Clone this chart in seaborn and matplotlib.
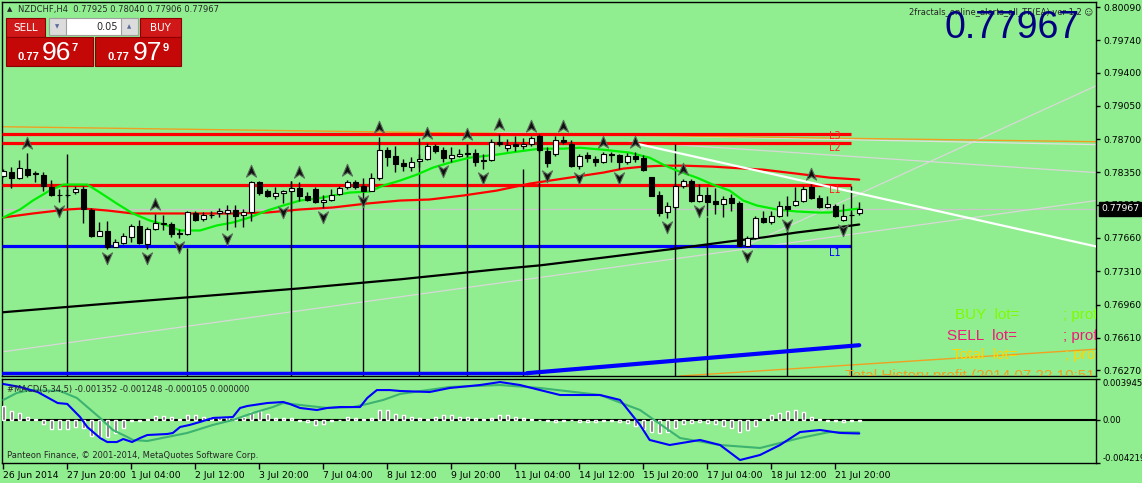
import numpy as np
import pandas as pd
import seaborn as sns
import matplotlib.pyplot as plt
from matplotlib.path import Path
from matplotlib.patches import Rectangle
import matplotlib.transforms as mtransforms

# NZDCHF H4 candles, 26 Jun 2014 12:00 .. 22 Jul 2014 08:00
opens = [0.78317, 0.78359, 0.78292, 0.78387, 0.78341, 0.78327, 0.78194, 0.78117, 0.78114, 0.78145,
         0.78177, 0.77956, 0.77683, 0.77729, 0.77568, 0.77609, 0.77669, 0.77788, 0.77599, 0.77753,
         0.77823, 0.77806, 0.77708, 0.77704, 0.77928, 0.77858, 0.77900, 0.77928, 0.77921, 0.77956,
         0.77897, 0.77932, 0.78250, 0.78152, 0.78103, 0.78138, 0.78156, 0.78187, 0.78103, 0.78177,
         0.78040, 0.78061, 0.78124, 0.78194, 0.78254, 0.78212, 0.78159, 0.78292, 0.78586, 0.78527,
         0.78446, 0.78411, 0.78467, 0.78492, 0.78631, 0.78589, 0.78498, 0.78526, 0.78554, 0.78554,
         0.78467, 0.78481, 0.78673, 0.78607, 0.78645, 0.78631, 0.78649, 0.78736, 0.78572, 0.78544,
         0.78694, 0.78649, 0.78414, 0.78533, 0.78491, 0.78463, 0.78544, 0.78533, 0.78456, 0.78519,
         0.78498, 0.78299, 0.78113, 0.77931, 0.77984, 0.78204, 0.78264, 0.78054, 0.78113, 0.78050,
         0.78019, 0.78085, 0.78029, 0.77581, 0.77658, 0.77871, 0.77826, 0.77896, 0.78001, 0.78008,
         0.78050, 0.78194, 0.78085, 0.77987, 0.77994, 0.77854, 0.77906, 0.77925]
highs = [0.78387, 0.78404, 0.78481, 0.78551, 0.78369, 0.78352, 0.78271, 0.78177, 0.78177, 0.78212,
         0.78212, 0.77977, 0.77827, 0.77834, 0.77652, 0.77715, 0.77809, 0.77851, 0.77774, 0.77914,
         0.77897, 0.77827, 0.77757, 0.77949, 0.77942, 0.77932, 0.77949, 0.77977, 0.78002, 0.78002,
         0.77967, 0.78264, 0.78264, 0.78177, 0.78194, 0.78166, 0.78264, 0.78254, 0.78142, 0.78194,
         0.78117, 0.78177, 0.78212, 0.78271, 0.78271, 0.78229, 0.78341, 0.78719, 0.78621, 0.78631,
         0.78492, 0.78509, 0.78544, 0.78656, 0.78649, 0.78614, 0.78614, 0.78596, 0.78648, 0.78596,
         0.78544, 0.78701, 0.78754, 0.78701, 0.78736, 0.78708, 0.78736, 0.78754, 0.78614, 0.78729,
         0.78729, 0.78694, 0.78544, 0.78561, 0.78519, 0.78561, 0.78561, 0.78544, 0.78554, 0.78561,
         0.78533, 0.78306, 0.78159, 0.78036, 0.78229, 0.78281, 0.78281, 0.78229, 0.78194, 0.78183,
         0.78106, 0.78124, 0.78054, 0.77679, 0.77896, 0.77949, 0.77949, 0.78054, 0.78106, 0.78194,
         0.78211, 0.78229, 0.78113, 0.78106, 0.78019, 0.78019, 0.77931, 0.78040]
lows = [0.78299, 0.78184, 0.78282, 0.78306, 0.78247, 0.78159, 0.78107, 0.78037, 0.78089, 0.78124,
        0.77816, 0.77669, 0.77676, 0.77547, 0.77564, 0.77599, 0.77617, 0.77599, 0.77547, 0.77739,
        0.77739, 0.77669, 0.77662, 0.77687, 0.77837, 0.77844, 0.77872, 0.77879, 0.77746, 0.77774,
        0.77774, 0.77837, 0.78117, 0.78096, 0.78068, 0.78026, 0.77932, 0.78054, 0.78054, 0.78026,
        0.77977, 0.78047, 0.78117, 0.78177, 0.78177, 0.78142, 0.78152, 0.78271, 0.78414, 0.78352,
        0.78369, 0.78369, 0.78404, 0.78481, 0.78551, 0.78456, 0.78456, 0.78509, 0.78509, 0.78421,
        0.78386, 0.78474, 0.78631, 0.78579, 0.78579, 0.78596, 0.78631, 0.78561, 0.78404, 0.78526,
        0.78649, 0.78404, 0.78386, 0.78456, 0.78421, 0.78449, 0.78463, 0.78386, 0.78439, 0.78456,
        0.78369, 0.78099, 0.77889, 0.77868, 0.77973, 0.78183, 0.78043, 0.78036, 0.77896, 0.77913,
        0.77879, 0.77949, 0.77574, 0.77564, 0.77651, 0.77819, 0.77808, 0.77879, 0.77896, 0.78001,
        0.78036, 0.78071, 0.77973, 0.77973, 0.77879, 0.77844, 0.77889, 0.77906]
closes = [0.78362, 0.78292, 0.78397, 0.78324, 0.78331, 0.78212, 0.78114, 0.78110, 0.78112, 0.78177,
          0.77967, 0.77676, 0.77729, 0.77564, 0.77620, 0.77676, 0.77788, 0.77606, 0.77757, 0.77816,
          0.77802, 0.77704, 0.77701, 0.77935, 0.77851, 0.77904, 0.77907, 0.77939, 0.77956, 0.77893,
          0.77932, 0.78254, 0.78131, 0.78103, 0.78135, 0.78159, 0.78184, 0.78103, 0.78061, 0.78037,
          0.78065, 0.78117, 0.78187, 0.78247, 0.78194, 0.78152, 0.78292, 0.78586, 0.78516, 0.78439,
          0.78414, 0.78460, 0.78492, 0.78631, 0.78579, 0.78498, 0.78533, 0.78544, 0.78547, 0.78456,
          0.78484, 0.78666, 0.78649, 0.78638, 0.78624, 0.78652, 0.78712, 0.78589, 0.78449, 0.78691,
          0.78666, 0.78414, 0.78526, 0.78498, 0.78463, 0.78544, 0.78533, 0.78456, 0.78526, 0.78491,
          0.78379, 0.78106, 0.77924, 0.77994, 0.78211, 0.78257, 0.78054, 0.78113, 0.78043, 0.78015,
          0.78071, 0.78029, 0.77581, 0.77658, 0.77868, 0.77826, 0.77896, 0.78001, 0.77966, 0.78054,
          0.78176, 0.78078, 0.77984, 0.78019, 0.77889, 0.77896, 0.77899, 0.77967]

date_labels = ["26 Jun 2014", "27 Jun 20:00", "1 Jul 04:00", "2 Jul 12:00", "3 Jul 20:00",
               "7 Jul 04:00", "8 Jul 12:00", "9 Jul 20:00", "11 Jul 04:00", "14 Jul 12:00",
               "15 Jul 20:00", "17 Jul 04:00", "18 Jul 12:00", "21 Jul 20:00"]
price_ticks = [0.80090, 0.79740, 0.79400, 0.79050, 0.78700, 0.78350, 0.78010,
               0.77660, 0.77310, 0.76960, 0.76610, 0.76270]

# fractal bars (index into the candles)
fractal_up = [3, 19, 31, 37, 43, 47, 53, 58, 62, 66, 70, 75, 79, 85, 101]
fractal_down = [7, 13, 18, 22, 28, 35, 40, 45, 55, 60, 68, 72, 77, 83, 87, 93, 98, 105]
# vertical marker lines: bar and price where they start
vline_bar = [8, 23, 36, 45, 52, 58, 65, 67, 84, 88, 98, 106]
vline_top = [0.78547, 0.77550, 0.78264, 0.78295, 0.78715, 0.78652, 0.78390, 0.78736,
             0.78652, 0.77876, 0.77823, 0.78211]

# moving averages (bar, price)
green_bar = [0, 2.1, 3.7, 5.8, 7.5, 10.5, 12.1, 14.2, 16.2, 18.3, 20.5, 22.1, 24.6, 26.7, 28.7,
             30.8, 33, 35, 37.1, 39.2, 41.2, 43.3, 45.8, 47.5, 49.6, 51.7, 53.7, 55.8, 58.3, 61.7,
             64.2, 67.1, 70, 72.1, 75, 78.3, 80.8, 82.5, 84.2, 86.7, 88.7, 90.8, 92.5, 94.2, 96.7,
             99.2, 101.7, 103.3, 104.9, 107]
green_ma = [0.77876, 0.77960, 0.78054, 0.78159, 0.78222, 0.78222, 0.78138, 0.78022, 0.77918,
            0.77844, 0.77792, 0.77739, 0.77739, 0.77792, 0.77823, 0.77876, 0.77949, 0.78002,
            0.78054, 0.78075, 0.78107, 0.78138, 0.78149, 0.78212, 0.78264, 0.78327, 0.78400,
            0.78453, 0.78505, 0.78537, 0.78568, 0.78600, 0.78600, 0.78610, 0.78589, 0.78558,
            0.78505, 0.78432, 0.78369, 0.78295, 0.78222, 0.78159, 0.78054, 0.78002, 0.77960,
            0.77939, 0.77928, 0.77928, 0.77949, 0.77970]
red_bar = [0, 3.7, 8, 10, 13, 16.2, 20.5, 24.6, 28.7, 33, 37.1, 41.2, 45.5, 49.6, 53.3, 57.5,
           61.7, 65.8, 70, 75, 77.5, 80, 82.5, 85, 88.7, 90.8, 95, 99.2, 103.3, 107]
red_ma = [0.77876, 0.77918, 0.77960, 0.77970, 0.77949, 0.77918, 0.77918, 0.77918, 0.77918,
          0.77928, 0.77960, 0.77981, 0.78023, 0.78054, 0.78065, 0.78107, 0.78159, 0.78232,
          0.78285, 0.78348, 0.78390, 0.78411, 0.78421, 0.78421, 0.78411, 0.78400, 0.78379,
          0.78337, 0.78295, 0.78274]
black_bar = [0, 12.1, 24.6, 37.1, 49.6, 61.7, 67.1, 74.2, 84.2, 90.8, 95, 99.2, 103.3, 107]
black_ma = [0.76879, 0.76963, 0.77046, 0.77130, 0.77225, 0.77330, 0.77372, 0.77445, 0.77550,
            0.77624, 0.77666, 0.77718, 0.77760, 0.77802]

# horizontal levels
red_levels = [0.78754, 0.78663, 0.78222]
blue_level = 0.77571

# MACD(5,34,5)
macd_bar = [0, 2.1, 4.3, 6.8, 8, 9.6, 10.5, 12.1, 13, 14.2, 15, 16.1, 17.1, 18, 20.5, 21.2, 22.1,
            23.3, 24.6, 26.2, 28.7, 29.6, 30.5, 33, 35, 35.8, 37.1, 39.2, 40.5, 42.1, 44.6, 45.5,
            46.7, 48.3, 49.6, 53.3, 55.8, 59.6, 62.1, 64.6, 67.1, 69.6, 74.6, 77.1, 79.6, 80.8,
            83.3, 87.1, 89.6, 92.1, 94.6, 97.1, 99.6, 102.1, 104.6, 107]
macd_main = [0.00346, 0.00317, 0.00268, 0.00161, 0.00152, 0.00025, -0.00072, -0.00179, -0.00218,
             -0.00218, -0.00189, -0.00218, -0.00179, -0.00150, -0.00140, -0.00130, -0.00072,
             -0.00052, -0.00023, 0.00016, 0.00025, 0.00113, 0.00132, 0.00161, 0.00171, 0.00152,
             0.00113, 0.00093, 0.00113, 0.00122, 0.00122, 0.00210, 0.00287, 0.00287, 0.00278,
             0.00268, 0.00307, 0.00336, 0.00365, 0.00336, 0.00287, 0.00239, 0.00239, 0.00191,
             -0.00052, -0.00198, -0.00247, -0.00198, -0.00247, -0.00393, -0.00344, -0.00247,
             -0.00121, -0.00101, -0.00130, -0.001352]
signal_bar = [0, 1.7, 3.3, 7.1, 9.2, 12.1, 13.7, 15.5, 16.2, 18, 20.5, 23, 26.2, 28.7, 31.2, 33.7,
              35, 37.1, 40.5, 43.7, 45.5, 47.5, 49.6, 55.8, 62.1, 67.1, 74.6, 79.6, 84.6, 89.6,
              94.6, 99.6, 103.3, 107]
macd_signal = [0.00191, 0.00259, 0.00287, 0.00278, 0.00210, 0.00016, -0.00101, -0.00169, -0.00198,
               -0.00208, -0.00169, -0.00130, -0.00052, -0.00004, 0.00064, 0.00122, 0.00161,
               0.00142, 0.00113, 0.00122, 0.00152, 0.00191, 0.00249, 0.00317, 0.00336, 0.00307,
               0.00239, 0.00093, -0.00179, -0.00247, -0.00276, -0.00179, -0.00121, -0.001248]
macd_hist = [0.00132, 0.00084, 0.00064, 0.00025, 0.00003, -0.00043, -0.00091, -0.00091, -0.00091,
             -0.00072, -0.00082, -0.00159, -0.00169, -0.00174, -0.00130, -0.00082, -0.00014,
             -0.00014, 0.00002, 0.00035, 0.00035, 0.00025, 0.00006, 0.00045, 0.00045, 0.00030,
             0.00030, 0.00030, 0.00025, 0.00016, 0.00025, 0.00074, 0.00079, 0.00054, 0.00020,
             0.00020, 0.00016, -0.00018, -0.00023, -0.00052, -0.00043, -0.00018, -0.00004,
             0.00030, 0.00020, 0.00006, 0.00020, 0.00093, 0.00093, 0.00059,
             0.0004, 0.0003, 0.0002, 0.0001, 0.0003, 0.0004, 0.0004, 0.0003,
             0.0003, 0.0002, 0.0001, 0.0002, 0.0004, 0.0004, 0.0003, 0.0002, 0.0001,
             0.0, -0.0001, -0.0002, -0.0001, 0.0, -0.0002, -0.0002, -0.0002, -0.0001, -0.0001,
             -0.0002, -0.0003,
             -0.0006, -0.0009, -0.0012, -0.0013, -0.0012, -0.0008, -0.0004, -0.0003, -0.0002,
             -0.0003, -0.0004, -0.0006, -0.0008, -0.0012,
             -0.0010, -0.0006, 0.0001, 0.0004, 0.0006, 0.0008, 0.0009, 0.0007, 0.0003, 0.0001,
             -0.0001, -0.0001, -0.0002, -0.0001, -0.000105]

# ---------------------------------------------------------------
sns.set_style("white")
plt.rcParams['font.family'] = ['DejaVu Sans']
plt.rcParams['axes.linewidth'] = 1.0

BG = '#90EE90'
W, H = 1142, 483
fig = plt.figure(figsize=(W / 100, H / 100), dpi=100, facecolor=BG)


def fbox(x0, y0, x1, y1):
    return [x0 / W, 1 - y1 / H, (x1 - x0) / W, (y1 - y0) / H]


def fxy(x, y):
    return x / W, 1 - y / H


ax = fig.add_axes(fbox(2, 2, 1096, 376), facecolor=BG)
axm = fig.add_axes(fbox(2, 379, 1096, 463), facecolor=BG)

n = len(opens)
bars = np.arange(n)
o = np.array(opens)
c = np.array(closes)
hi = np.array(highs)
lo = np.array(lows)
xlim = (-0.16, 136.6)
ylim = (0.76208, 0.80143)

# bid line
ax.axhline(closes[-1], color='#C8C8C8', lw=0.9, zorder=1)

# thin pale trend lines
ax.plot([-0.4, 136.6], [0.76459, 0.78054], color='#D8D8D8', lw=0.9, zorder=2)
ax.plot([92.9, 136.6], [0.77582, 0.79261], color='#D8D8D8', lw=0.9, zorder=2)
ax.plot([78.3, 136.6], [0.78673, 0.78348], color='#D8D8D8', lw=0.9, zorder=2)
ax.plot([61.7, 136.6], [0.78768, 0.78642], color='#E0E0E0', lw=0.9, zorder=2)
# orange line near top and bottom
ax.plot([-0.4, 136.6], [0.78831, 0.78673], color='#F0A020', lw=1.0, zorder=2)
ax.plot([84.6, 136.6], [0.76208, 0.76490], color='#F0A020', lw=1.0, zorder=2)

# levels
ax.hlines(red_levels, xlim[0], 106, color='#FF0000', lw=2.3, zorder=3)
ax.hlines(blue_level, xlim[0], 106, color='#0000FF', lw=2.3, zorder=3)

# vertical marker lines
ax.vlines(vline_bar, ylim[0], vline_top, color='black', lw=1.0, zorder=3)

# moving averages
sns.lineplot(x=black_bar, y=black_ma, color='black', lw=1.6, ax=ax, estimator=None, sort=False, zorder=4)
sns.lineplot(x=red_bar, y=red_ma, color='#FF0000', lw=1.6, ax=ax, estimator=None, sort=False, zorder=4)
sns.lineplot(x=green_bar, y=green_ma, color='#00EE00', lw=1.6, ax=ax, estimator=None, sort=False, zorder=4)

# white descending line
ax.plot([79.2, 136.6], [0.78652, 0.77571], color='white', lw=1.6, zorder=4)
# blue rising line at the bottom
ax.plot([-0.4, 65.5], [0.76238, 0.76238], color='#0000FF', lw=2.5, zorder=4)
ax.plot([65.5, 107], [0.76238, 0.76532], color='#0000FF', lw=3.0, zorder=4)

# candles
ax.vlines(bars, lo, hi, color='black', lw=1.0, zorder=5)
ax.bar(bars, c - o, bottom=o, width=0.62, color=np.where(c >= o, 'white', 'black'),
       edgecolor='black', lw=0.8, zorder=6)

# fractal arrows
arrow_up = Path([(0, 1), (0.8, -0.9), (0, -0.35), (-0.8, -0.9), (0, 1)],
                [Path.MOVETO, Path.LINETO, Path.LINETO, Path.LINETO, Path.CLOSEPOLY])
arrow_dn = Path([(0, -1), (0.8, 0.9), (0, 0.35), (-0.8, 0.9), (0, -1)],
                [Path.MOVETO, Path.LINETO, Path.LINETO, Path.LINETO, Path.CLOSEPOLY])
tr_up = ax.transData + mtransforms.ScaledTranslation(0, 10 / 100, fig.dpi_scale_trans)
tr_dn = ax.transData + mtransforms.ScaledTranslation(0, -9 / 100, fig.dpi_scale_trans)
ax.plot(fractal_up, hi[fractal_up], ls='none', marker=arrow_up, ms=9, mfc='#101010',
        mec='#5A6A5A', mew=0.8, transform=tr_up, zorder=7)
ax.plot(fractal_down, lo[fractal_down], ls='none', marker=arrow_dn, ms=9, mfc='#101010',
        mec='#5A6A5A', mew=0.8, transform=tr_dn, zorder=7)

# level labels
for txt, x, y, col in [('L3', 829, 136, '#FF2020'), ('L2', 829, 148, '#FF2020'),
                       ('L1', 829, 190, '#FF2020'), ('L1', 829, 253, '#0000FF')]:
    fig.text(*fxy(x, y), txt, color=col, fontsize=7, va='center', ha='left', zorder=8)

ax.set_xlim(*xlim)
ax.set_ylim(*ylim)
ax.set_xlabel('')
ax.set_ylabel('')
ax.set_xticks([])
ax.yaxis.tick_right()
ax.set_yticks(price_ticks)
ax.set_yticklabels([f'{v:.5f}' for v in price_ticks])
ax.tick_params(axis='y', length=3, width=1, pad=2, labelsize=6.7, colors='black', right=True)
for s in ax.spines.values():
    s.set_color('black')

# current price box
pt = mtransforms.blended_transform_factory(ax.transAxes, ax.transData)
ax.text(1.0045, closes[-1], f'{closes[-1]:.5f}', transform=pt, ha='left', va='center',
        color='white', fontsize=6.7, clip_on=False, zorder=20,
        bbox=dict(boxstyle='square,pad=0.25', fc='black', ec='black'))

# MACD panel
axm.axhline(0, color='black', lw=1.5, zorder=2)
axm.bar(bars, macd_hist, width=0.4, color='#6E6E6E', zorder=3)
sns.lineplot(x=signal_bar, y=macd_signal, color='#3CB371', lw=1.5, ax=axm, estimator=None, sort=False, zorder=4)
sns.lineplot(x=macd_bar, y=macd_main, color='#0000FF', lw=1.5, ax=axm, estimator=None, sort=False, zorder=5)
axm.set_xlim(*xlim)
axm.set_ylim(-0.004219, 0.003945)
axm.set_xlabel('')
axm.set_ylabel('')
axm.yaxis.tick_right()
axm.set_yticks([0.003945, 0.0, -0.004219])
axm.set_yticklabels(['0.003945', '0.00', '-0.004219'])
labs = axm.get_yticklabels()
labs[0].set_va('top')
labs[2].set_va('bottom')
axm.tick_params(axis='y', length=3, width=1, pad=1.5, labelsize=6.1, colors='black', right=True)
axm.set_xticks(np.arange(0, 8 * len(date_labels), 8))
axm.set_xticklabels(date_labels, ha='left')
axm.tick_params(axis='x', length=4, width=1, pad=2, labelsize=6.7, colors='black', bottom=True)
for s in axm.spines.values():
    s.set_color('black')

axm.text(0.005, 0.93, '#MACD(5,34,5) -0.001352 -0.001248 -0.000105 0.000000',
         transform=axm.transAxes, fontsize=6, va='top', ha='left', zorder=10)
axm.text(0.005, 0.04, 'Panteon Finance, \u00a9 2001-2014, MetaQuotes Software Corp.',
         transform=axm.transAxes, fontsize=6, va='bottom', ha='left', zorder=10)

# top-left header
fig.text(*fxy(7, 9.5), '\u25b2', fontsize=5, va='center', ha='left')
fig.text(*fxy(18, 9.5), 'NZDCHF,H4  0.77925 0.78040 0.77906 0.77967', fontsize=6, va='center', ha='left')

# one-click trading panel
def frect(x0, y0, x1, y1, **kw):
    fig.add_artist(Rectangle((x0 / W, 1 - y1 / H), (x1 - x0) / W, (y1 - y0) / H,
                             transform=fig.transFigure, **kw))


frect(6, 18, 45, 37, fc='#D01818', ec='#8B0000', lw=0.8)
frect(140, 18, 181, 37, fc='#D01818', ec='#8B0000', lw=0.8)
frect(6, 37, 93, 66, fc='#C40808', ec='#8B0000', lw=0.8)
frect(95, 37, 181, 66, fc='#C40808', ec='#8B0000', lw=0.8)
frect(49, 18, 138, 35, fc='white', ec='#A0A0A0', lw=0.8)
frect(49, 18, 66, 35, fc='#DCDCDC', ec='#A0A0A0', lw=0.8)
frect(121, 18, 138, 35, fc='#DCDCDC', ec='#A0A0A0', lw=0.8)
fig.text(*fxy(57.5, 27), '\u25bc', fontsize=4, color='#5A6A9A', ha='center', va='center')
fig.text(*fxy(129.5, 27), '\u25b2', fontsize=4, color='#5A6A9A', ha='center', va='center')
fig.text(*fxy(118, 27), '0.05', fontsize=7, ha='right', va='center')
fig.text(*fxy(25.5, 28), 'SELL', fontsize=7.5, color='white', ha='center', va='center')
fig.text(*fxy(160.5, 28), 'BUY', fontsize=7.5, color='white', ha='center', va='center')
for x0, big, small in [(17, '96', '7'), (108, '97', '9')]:
    fig.text(*fxy(x0, 60), '0.77', fontsize=8, color='white', weight='bold', ha='left',
             va='baseline', family='Liberation Sans')
    fig.text(*fxy(x0 + 25, 60), big, fontsize=19, color='white', ha='left', va='baseline',
             family='Liberation Sans')
    fig.text(*fxy(x0 + 55, 51), small, fontsize=8, color='white', weight='bold', ha='left',
             va='baseline', family='Liberation Sans')

# expert advisor label + big bid
fig.text(*fxy(1093, 12), '2fractals_online_alerts_all_TF(EA) ver 1.2 \u263a', fontsize=6,
         ha='right', va='center', family=['DejaVu Sans'])
fig.text(*fxy(944, 38), '0.77967', fontsize=27, color='#000080', ha='left', va='baseline',
         family='Liberation Sans')

# EA status texts (clipped by the chart frame)
px = mtransforms.blended_transform_factory(fig.transFigure, fig.transFigure)
for txt, x, y, col in [('BUY  lot=', 955, 315, '#7CFC00'), ('; prof', 1063, 315, '#7CFC00'),
                       ('SELL  lot=', 947, 336, '#F0187A'), ('; prof', 1063, 336, '#F0187A'),
                       ('Total  lot=', 952, 355, '#FFD700'), ('; prof', 1065, 355, '#FFD700')]:
    t = ax.text(*fxy(x, y), txt, transform=px, color=col, fontsize=11, ha='left', va='center',
                family='Liberation Sans', zorder=9)
    t.set_clip_on(True)
t = ax.text(*fxy(845, 369), 'Total History profit (2014.07.22 10:51:30)', transform=px,
            color='#F0A020', fontsize=11, ha='left', va='top', family='Liberation Sans', zorder=9)
t.set_clip_on(True)

fig.savefig('out.png', dpi=100, facecolor=BG)
